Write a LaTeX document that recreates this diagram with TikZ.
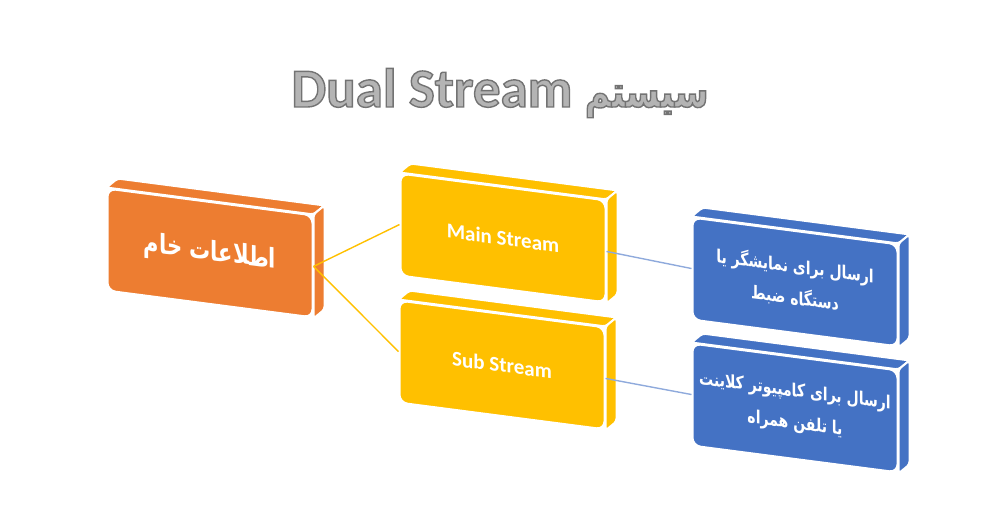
\documentclass[tikz,border=0pt]{standalone}
\usepackage{fontspec}
\setmainfont{Carlito}
\newfontfamily\fafont[Script=Arabic, FakeStretch=0.78]{DejaVu Sans}
\usepackage{xcolor}
\usepackage{tikz}
\usetikzlibrary{calc,backgrounds}
\TeXXeTstate=1

\definecolor{rawc}{HTML}{ED7D31}
\definecolor{streamc}{HTML}{FFC000}
\definecolor{sendc}{HTML}{4472C4}
\definecolor{feedline}{HTML}{FFC000}
\definecolor{linkline}{HTML}{8FAADC}
\definecolor{titlefill}{HTML}{B4B4B4}

% outlined title text (fill + stroke)
\newcommand{\outlined}[1]{\special{pdf:literal direct 2 Tr 0.7 w 0.45 0.45 0.45 RG}#1\special{pdf:literal direct 0 Tr}}

\begin{document}
\begin{tikzpicture}[
  x=0.5pt, y=0.5pt,
  slab/.style={rectangle, rounded corners=4pt, draw=white, line width=1pt, minimum width=102.5pt, minimum height=51pt, inner sep=0pt, text=white, align=center, yslant=-0.13, transform shape},
  face/.style={draw=white, line width=1pt, rounded corners=1.5pt},
  fatext/.style 2 args={font=\fafont\bfseries\fontsize{#1}{#2}\selectfont},
  entext/.style={font=\bfseries\fontsize{10.5}{13}\selectfont},
  feed/.style={color=feedline, line width=0.7pt},
  link/.style={color=linkline, line width=0.7pt}
]
\useasboundingbox (0,0) rectangle (1000,522);

% Column 1: raw data
\node[slab, fill=rawc, fatext={13.5}{16}] (raw) at (210,269) {\beginR اطلاعات خام\endR};

% Column 2: the two streams
\node[slab, fill=streamc, entext] (main) at (503,284) {Main Stream};
\node[slab, fill=streamc, entext] (sub) at (502,157) {Sub Stream};

% Column 3: destinations
\node[slab, fill=sendc, fatext={9}{16}] (disp) at (795,240) {\beginR ارسال برای نمایشگر یا\endR\\ \beginR دستگاه ضبط\endR};
\node[slab, fill=sendc, fatext={9}{16}] (client) at (795,114) {\beginR ارسال برای کامپیوتر کلاینت\endR\\ \beginR یا تلفن همراه\endR};

% Depth of the slabs (top and side faces)
\begin{scope}[on background layer]
\foreach \n/\c in {raw/rawc, main/streamc, sub/streamc, disp/sendc, client/sendc} {
  \filldraw[face, fill=\c] (\n.north west) -- (\n.north east) -- ($(\n.north east)+(11,9)$) -- ($(\n.north west)+(11,9)$) -- cycle;
  \filldraw[face, fill=\c] (\n.north east) -- (\n.south east) -- ($(\n.south east)+(11,9)$) -- ($(\n.north east)+(11,9)$) -- cycle;
}
\end{scope}

% Connectors
\draw[feed] (raw.east) -- (main.west);
\draw[feed] (raw.east) -- (sub.west);
\draw[link] (main.east) -- (disp.west);
\draw[link] (sub.east) -- (client.west);

% Title
\node[text=titlefill, font=\bfseries\fontsize{27.5}{33}\selectfont, anchor=base] (head) at (500,415) {\outlined{Dual Stream {\fafont\fontsize{22}{26}\selectfont\beginR سیستم\endR}}};

\end{tikzpicture}
\end{document}
